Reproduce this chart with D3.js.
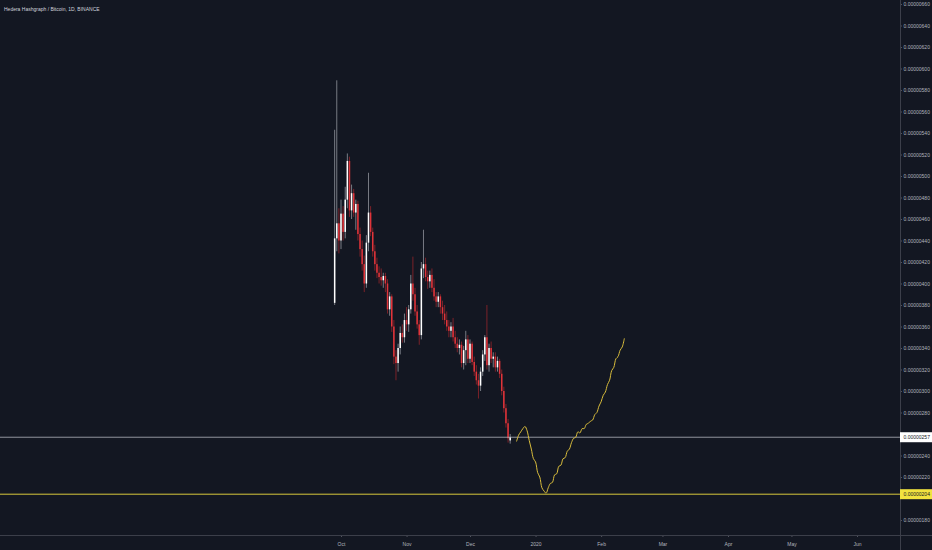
<!DOCTYPE html>
<html>
<head>
<meta charset="utf-8">
<script src="https://cdn.jsdelivr.net/npm/d3@7"></script>
<style>
    html, body { margin: 0; padding: 0; background: #131722; }
    svg { display: block; }
    text { font-family: "Liberation Sans", "DejaVu Sans", sans-serif; }
</style>
</head>
<body>
<script>
"use strict";

// prices in satoshi (1e-8 BTC)
var dates = [
    "2019-09-28", "2019-09-29", "2019-09-30",
    "2019-10-01", "2019-10-02", "2019-10-03", "2019-10-04", "2019-10-05", "2019-10-06", "2019-10-07",
    "2019-10-08", "2019-10-09", "2019-10-10", "2019-10-11", "2019-10-12", "2019-10-13", "2019-10-14",
    "2019-10-15", "2019-10-16", "2019-10-17", "2019-10-18", "2019-10-19", "2019-10-20", "2019-10-21",
    "2019-10-22", "2019-10-23", "2019-10-24", "2019-10-25", "2019-10-26", "2019-10-27", "2019-10-28",
    "2019-10-29", "2019-10-30", "2019-10-31",
    "2019-11-01", "2019-11-02", "2019-11-03", "2019-11-04", "2019-11-05", "2019-11-06", "2019-11-07",
    "2019-11-08", "2019-11-09", "2019-11-10", "2019-11-11", "2019-11-12", "2019-11-13", "2019-11-14",
    "2019-11-15", "2019-11-16", "2019-11-17", "2019-11-18", "2019-11-19", "2019-11-20", "2019-11-21",
    "2019-11-22", "2019-11-23", "2019-11-24", "2019-11-25", "2019-11-26", "2019-11-27", "2019-11-28",
    "2019-11-29", "2019-11-30",
    "2019-12-01", "2019-12-02", "2019-12-03", "2019-12-04", "2019-12-05", "2019-12-06", "2019-12-07",
    "2019-12-08", "2019-12-09", "2019-12-10", "2019-12-11", "2019-12-12", "2019-12-13", "2019-12-14",
    "2019-12-15", "2019-12-16", "2019-12-17", "2019-12-18", "2019-12-19", "2019-12-20"
];
var opens = [
    382, 442, 456,
    440, 465, 448, 478, 514, 468, 484, 466, 474, 446, 432, 418, 400, 438, 466, 448, 430, 418, 410, 406,
    403, 407, 400, 376, 388, 360, 332, 326, 340, 354, 350,
    366, 362, 376, 400, 390, 374, 362, 352, 414, 418, 406, 402, 408, 396, 388, 383, 388, 378, 372, 366,
    360, 356, 360, 350, 344, 340, 343, 326, 338, 348,
    330, 344, 327, 318, 310, 305, 318, 334, 350, 324, 340, 330, 332, 322, 328, 316, 300, 284, 270, 254
];
var highs = [
    543, 589, 470,
    478, 472, 490, 521, 518, 492, 488, 478, 477, 452, 440, 426, 445, 503, 472, 452, 436, 424, 416, 414,
    410, 410, 404, 392, 390, 366, 338, 344, 360, 362, 372,
    378, 380, 408, 425, 396, 380, 366, 420, 450, 424, 412, 412, 414, 404, 392, 392, 390, 384, 380, 374,
    366, 364, 368, 356, 350, 348, 346, 342, 356, 352,
    348, 346, 332, 324, 316, 322, 338, 352, 380, 344, 346, 336, 336, 332, 330, 320, 304, 288, 274, 260
];
var lows = [
    380, 430, 428,
    432, 440, 442, 470, 462, 460, 462, 450, 440, 425, 412, 392, 396, 430, 444, 425, 412, 405, 400, 398,
    396, 392, 372, 370, 355, 325, 310, 318, 334, 345, 345,
    356, 355, 372, 384, 370, 358, 343, 348, 405, 402, 395, 396, 392, 384, 378, 378, 372, 366, 362, 356,
    350, 350, 346, 340, 336, 334, 322, 320, 324, 326,
    326, 324, 314, 306, 293, 300, 314, 328, 320, 318, 326, 322, 318, 318, 312, 296, 280, 266, 252, 251
];
var closes = [
    442, 456, 440,
    465, 448, 478, 514, 468, 484, 466, 474, 446, 432, 418, 400, 438, 466, 448, 430, 418, 410, 406, 403,
    407, 400, 376, 388, 360, 332, 326, 340, 354, 350, 366,
    362, 376, 400, 390, 374, 362, 352, 414, 418, 406, 402, 408, 396, 388, 383, 388, 378, 372, 366, 360,
    356, 360, 350, 344, 340, 343, 326, 338, 348, 330,
    344, 327, 318, 310, 305, 318, 334, 350, 324, 340, 330, 332, 322, 328, 316, 300, 284, 270, 256, 257
];

// hand drawn projection
var pathDates = [
    "2019-12-23", "2019-12-24", "2019-12-25", "2019-12-26", "2019-12-27", "2019-12-28", "2019-12-29",
    "2019-12-30", "2019-12-31", "2020-01-01", "2020-01-02", "2020-01-03", "2020-01-04", "2020-01-05",
    "2020-01-06", "2020-01-07", "2020-01-08", "2020-01-09", "2020-01-10", "2020-01-11", "2020-01-12",
    "2020-01-13", "2020-01-14", "2020-01-15", "2020-01-16", "2020-01-17", "2020-01-18", "2020-01-19",
    "2020-01-20", "2020-01-21", "2020-01-22", "2020-01-23", "2020-01-24", "2020-01-25", "2020-01-26",
    "2020-01-27", "2020-01-28", "2020-01-29", "2020-01-30", "2020-01-31", "2020-02-01", "2020-02-02",
    "2020-02-03", "2020-02-04", "2020-02-05", "2020-02-06", "2020-02-07", "2020-02-08", "2020-02-09",
    "2020-02-10", "2020-02-11", "2020-02-12"
];
var pathValues = [
    253, 259, 262, 265, 267, 263, 254,
    246, 237, 234, 224, 220, 210, 207,
    205, 210, 214, 215, 222, 223, 230,
    231, 237, 238, 244, 246, 252, 256,
    257, 262, 261, 265, 265, 269, 270,
    272, 273, 278, 280, 286, 290, 296,
    299, 306, 310, 319, 322, 330, 332,
    338, 341, 349
];

var yTicks = [180, 200, 220, 240, 260, 280, 300, 320, 340, 360, 380, 400, 420,
              440, 460, 480, 500, 520, 540, 560, 580, 600, 620, 640, 660];
var xTickDates = ["2019-10-01", "2019-11-01", "2019-12-01", "2020-01-01", "2020-02-01",
                  "2020-03-01", "2020-04-01", "2020-05-01", "2020-06-01"];
var xTickLabels = ["Oct", "Nov", "Dec", "2020", "Feb", "Mar", "Apr", "May", "Jun"];

var lastPrice = 257;
var targetPrice = 204;
var title = "Hedera Hashgraph / Bitcoin, 1D, BINANCE";

var W = 932, H = 550;
var plotRight = 900, plotBottom = 535;
var fontSize = 5;
var parseDate = d3.utcParse("%Y-%m-%d");
var fmt = function(v) { return (v / 1e8).toFixed(8); };

var candles = dates.map(function(d, i) {
    return {date: parseDate(d), o: opens[i], h: highs[i], l: lows[i], c: closes[i]};
});
var projection = pathDates.map(function(d, i) {
    return {date: parseDate(d), v: pathValues[i]};
});

var x = d3.scaleUtc()
    .domain([parseDate("2019-10-01"), parseDate("2020-06-01")])
    .range([341, 857]);
var y = d3.scaleLinear().domain([180, 660]).range([520, 4]);

var svg = d3.select("body").append("svg")
    .attr("width", W)
    .attr("height", H);

svg.append("rect").attr("width", W).attr("height", H).attr("fill", "#131722");

// title
svg.append("text")
    .attr("x", 4).attr("y", 11)
    .attr("fill", "#d1d4dc")
    .attr("font-size", fontSize)
    .text(title);

var plot = svg.append("g");

// candles
var bodyW = 1.5;
var cg = plot.selectAll(".candle")
    .data(candles)
    .enter().append("g")
    .attr("class", "candle");

cg.append("line")
    .attr("x1", function(d) { return x(d.date); })
    .attr("x2", function(d) { return x(d.date); })
    .attr("y1", function(d) { return y(d.h); })
    .attr("y2", function(d) { return y(d.l); })
    .attr("stroke", function(d) { return d.c >= d.o ? "#a3a6af" : "#a8262c"; })
    .attr("stroke-width", 0.7);

cg.append("rect")
    .attr("x", function(d) { return x(d.date) - bodyW / 2; })
    .attr("width", bodyW)
    .attr("y", function(d) { return y(Math.max(d.o, d.c)); })
    .attr("height", function(d) { return Math.max(1, Math.abs(y(d.o) - y(d.c))); })
    .attr("fill", function(d) { return d.c >= d.o ? "#ffffff" : "#e0343a"; });

// horizontal levels
plot.append("line")
    .attr("x1", 0).attr("x2", plotRight)
    .attr("y1", y(lastPrice)).attr("y2", y(lastPrice))
    .attr("stroke", "#b2b5be")
    .attr("stroke-width", 0.8);

plot.append("line")
    .attr("x1", 0).attr("x2", plotRight)
    .attr("y1", y(targetPrice)).attr("y2", y(targetPrice))
    .attr("stroke", "#d8c93c")
    .attr("stroke-width", 1);

// projection path
var line = d3.line()
    .x(function(d) { return x(d.date); })
    .y(function(d) { return y(d.v); })
    .curve(d3.curveCatmullRom.alpha(0.5));

plot.append("path")
    .datum(projection)
    .attr("d", line)
    .attr("fill", "none")
    .attr("stroke", "#d9bd3c")
    .attr("stroke-width", 1);

// x axis
var xAxis = svg.append("g")
    .attr("class", "x axis")
    .attr("transform", "translate(0," + plotBottom + ")")
    .call(d3.axisBottom(x)
        .tickValues(xTickDates.map(parseDate))
        .tickFormat(function(d, i) { return xTickLabels[i]; })
        .tickSize(2)
        .tickPadding(5));
xAxis.select(".domain").remove();
xAxis.selectAll("line").attr("stroke", "#50535e");
xAxis.selectAll("text")
    .attr("fill", "#b2b5be")
    .attr("font-size", fontSize)
    .attr("font-family", "Liberation Sans, sans-serif");

svg.append("line")
    .attr("x1", 0).attr("x2", W)
    .attr("y1", plotBottom + 0.5).attr("y2", plotBottom + 0.5)
    .attr("stroke", "#3c3f4a");

// y axis, ticks hidden behind the price tags are left out
var visibleTicks = yTicks.filter(function(v) {
    return Math.abs(y(v) - y(lastPrice)) > 6 && Math.abs(y(v) - y(targetPrice)) > 6;
});
var yAxis = svg.append("g")
    .attr("class", "y axis")
    .attr("transform", "translate(" + plotRight + ",0)")
    .call(d3.axisRight(y)
        .tickValues(visibleTicks)
        .tickFormat(fmt)
        .tickSize(2)
        .tickPadding(1.5));
yAxis.select(".domain").remove();
yAxis.selectAll("line").attr("stroke", "#50535e");
yAxis.selectAll("text")
    .attr("fill", "#b2b5be")
    .attr("font-size", fontSize)
    .attr("font-family", "Liberation Sans, sans-serif");

svg.append("line")
    .attr("x1", plotRight + 0.5).attr("x2", plotRight + 0.5)
    .attr("y1", 0).attr("y2", H)
    .attr("stroke", "#3c3f4a");

// price labels on the axis
function priceTag(v, bg, fg) {
    var g = svg.append("g").attr("transform", "translate(" + plotRight + "," + y(v) + ")");
    g.append("rect")
        .attr("x", 0).attr("y", -5)
        .attr("width", W - plotRight).attr("height", 10)
        .attr("fill", bg);
    g.append("text")
        .attr("x", 3.5).attr("y", 1.8)
        .attr("fill", fg)
        .attr("font-size", fontSize)
        .text(fmt(v));
}
priceTag(lastPrice, "#ffffff", "#131722");
priceTag(targetPrice, "#f2e33f", "#131722");
</script>
</body>
</html>
